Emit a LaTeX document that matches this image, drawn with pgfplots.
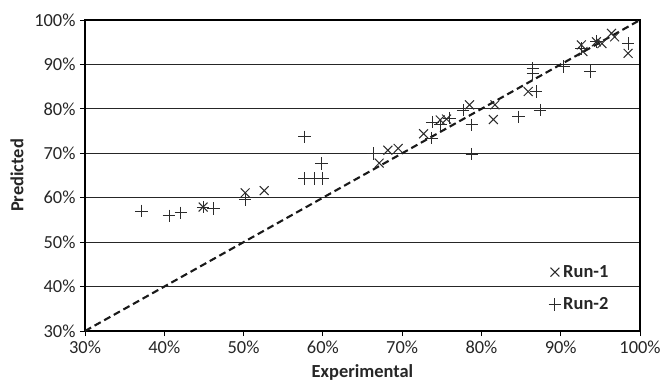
\documentclass[border=0pt]{standalone}
\usepackage{fontspec}
\setmainfont{Carlito}
\usepackage{pgfplots}
\pgfplotsset{compat=1.18}

\definecolor{markgray}{HTML}{2B2B2B}

\begin{document}
\begin{tikzpicture}[x=1bp,y=1bp]
\useasboundingbox (-85,-57) rectangle (578,331);
\begin{axis}[
  at={(0,0)}, anchor=origin,
  scale only axis,
  width=555bp, height=311bp,
  xmin=30, xmax=100, ymin=30, ymax=100,
  xtick={30,40,...,100}, ytick={30,40,...,100},
  xticklabels={30\%,40\%,50\%,60\%,70\%,80\%,90\%,100\%},
  yticklabels={30\%,40\%,50\%,60\%,70\%,80\%,90\%,100\%},
  tick align=outside,
  xtick pos=bottom, ytick pos=left,
  major tick length=5bp,
  tick style={black, line width=0.9bp},
  axis line style={black, line width=1.1bp},
  ymajorgrids,
  grid style={black!85, line width=0.9bp},
  ticklabel style={font=\fontsize{18.5}{20}\selectfont, text=black!85},
  xticklabel style={yshift=-1bp},
  yticklabel style={xshift=-1bp},
  xlabel={\textbf{Experimental}},
  ylabel={\textbf{Predicted}},
  label style={font=\fontsize{18.5}{21}\selectfont, text=black!85},
  xlabel style={at={(0.5,0)}, anchor=center, yshift=-41bp},
  ylabel style={at={(0,0.5)}, anchor=center, rotate=0, yshift=68bp},
  legend style={draw=none, fill=none, at={(0.835,0.218)}, anchor=north west,
    font=\fontsize{18.5}{21}\selectfont\bfseries, text=black!85,
    row sep=15bp, inner sep=0bp},
  legend cell align=left,
  clip=false,
]
% 1:1 reference line
\addplot[black!90, line width=2.1bp, dash pattern=on 7bp off 4bp, forget plot]
  coordinates {(30,30) (100,100)};

% Run-1
\addplot[only marks, mark=x, mark size=6.3bp, mark options={markgray, line width=1bp}]
  coordinates {
  (44.9,57.9) (50.2,61.1) (52.6,61.6) (67.1,67.8) (68.2,70.7) (69.5,71.1)
  (72.7,74.4) (74.8,77.5) (75.6,77.7) (78.5,80.9) (81.7,80.9) (81.5,77.6)
  (85.9,83.9) (92.6,94.4) (92.8,92.9) (94.5,95.1) (95.2,94.7) (96.4,97.0)
  (96.8,96.2) (98.5,92.5)
  };
\addlegendentry{Run-1}

% Run-2
\addplot[only marks, mark=+, mark size=6.3bp, mark options={markgray, line width=1bp}]
  coordinates {
  (37.1,57.0) (40.6,55.9) (42.1,56.6) (44.9,57.9) (46.2,57.6) (50.2,59.6)
  (57.7,73.7) (59.8,67.7) (57.7,64.3) (58.9,64.3) (60.0,64.3) (66.4,69.9)
  (73.7,73.4) (73.8,77.0) (74.8,76.4) (76.0,77.9) (77.7,79.7) (78.8,76.4)
  (78.8,69.8) (84.7,78.2) (86.5,89.1) (86.5,88.0) (86.9,83.9) (87.4,79.7)
  (90.4,89.5) (93.7,88.4) (92.6,93.6) (94.5,95.1) (98.5,94.7)
  };
\addlegendentry{Run-2}
\end{axis}
\end{tikzpicture}
\end{document}
